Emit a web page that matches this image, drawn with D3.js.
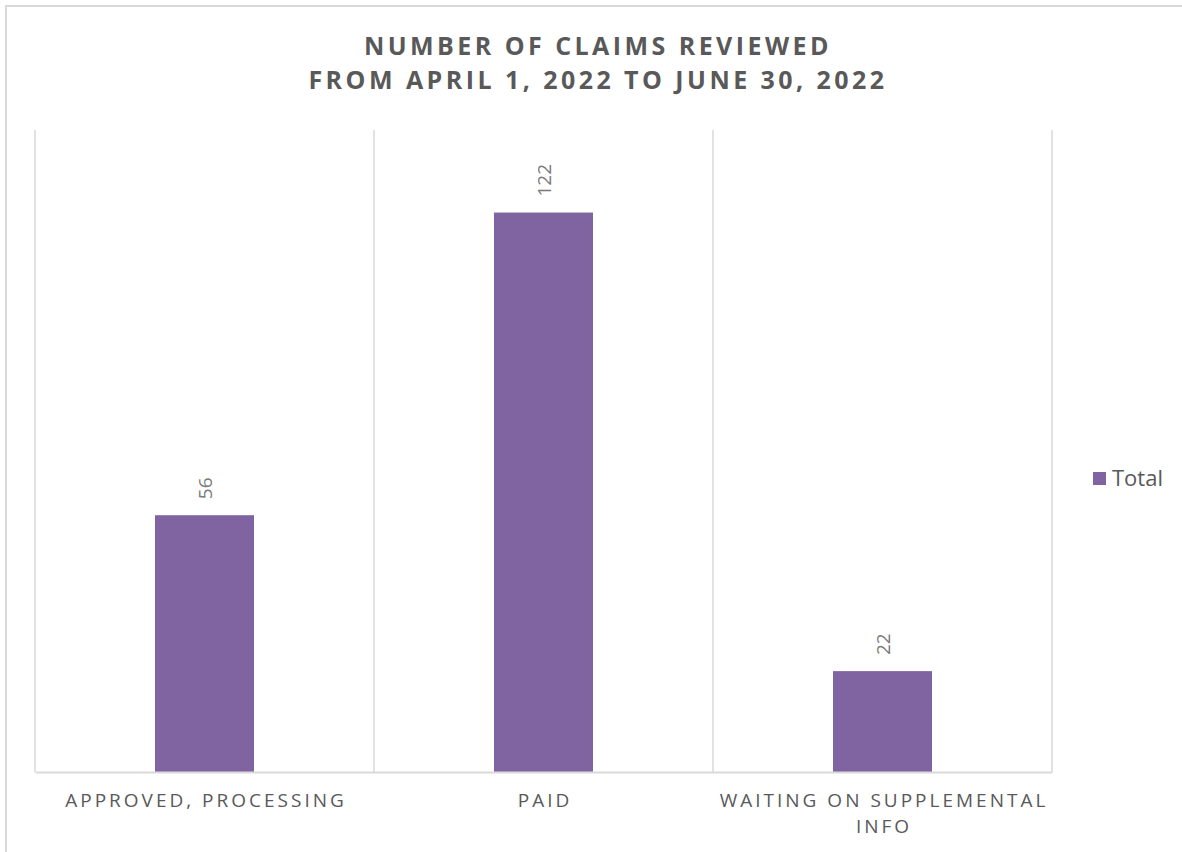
<!DOCTYPE html>
<html>
<head>
<meta charset="utf-8">
<script src="https://cdn.jsdelivr.net/npm/d3@7"></script>
<style>
  body { margin: 0; background: #fff; }
  svg { display: block; font-family: "Open Sans", sans-serif; }
</style>
</head>
<body>
<div id="container"></div>
<script>
const categories = [['APPROVED, PROCESSING'], ['PAID'], ['WAITING ON SUPPLEMENTAL', 'INFO']]
const totals = [56, 122, 22]
const seriesName = 'Total'

const width = 1182
const height = 852
const margin = { top: 130, right: 130, bottom: 80, left: 35 }

const svg = d3.select('#container')
  .append('svg')
  .attr('width', width)
  .attr('height', height)

// chart frame
svg.append('rect')
  .attr('x', 6).attr('y', 6)
  .attr('width', width).attr('height', height)
  .attr('fill', 'none')
  .attr('stroke', '#d9d9d9')
  .attr('stroke-width', 2)

const scaleX = d3.scaleBand()
  .domain(d3.range(categories.length))
  .range([margin.left, width - margin.right])

const scaleY = d3.scaleLinear()
  .domain([0, 140])
  .range([height - margin.bottom, margin.top])

// vertical gridlines between categories
const edges = d3.range(categories.length + 1).map(i => margin.left + i * scaleX.bandwidth())
svg.selectAll('.grid')
  .data(edges)
  .enter()
  .append('line')
  .attr('x1', d => d).attr('x2', d => d)
  .attr('y1', margin.top).attr('y2', height - margin.bottom)
  .attr('stroke', '#d9d9d9')
  .attr('stroke-width', 1.5)

const barW = scaleX.bandwidth() * 0.292

svg.selectAll('.bar')
  .data(totals)
  .enter()
  .append('rect')
  .attr('x', (d, i) => scaleX(i) + scaleX.bandwidth() / 2 - barW / 2)
  .attr('y', d => scaleY(d))
  .attr('width', barW)
  .attr('height', d => scaleY(0) - scaleY(d))
  .attr('fill', '#8064a2')

// value labels, rotated
svg.selectAll('.val')
  .data(totals)
  .enter()
  .append('text')
  .attr('transform', (d, i) => `translate(${scaleX(i) + scaleX.bandwidth() / 2 + 7.5}, ${scaleY(d) - 16}) rotate(-90)`)
  .attr('text-anchor', 'start')
  .attr('font-size', 19)
  .attr('fill', '#7a7a7a')
  .text(d => d)

// x axis
const axisX = d3.axisBottom(scaleX).tickSize(0).tickFormat('')
const gx = svg.append('g')
  .attr('transform', `translate(0, ${height - margin.bottom})`)
  .call(axisX)
gx.select('.domain').attr('stroke', '#d9d9d9').attr('stroke-width', 2)

gx.selectAll('.tick').each(function (d) {
  const t = d3.select(this).append('text')
    .attr('fill', '#595959')
    .attr('font-family', '"Open Sans", sans-serif')
    .attr('font-size', 19)
    .attr('letter-spacing', 3)
    .attr('text-anchor', 'middle')
  categories[d].forEach((line, j) => {
    t.append('tspan')
      .attr('x', 1.5)
      .attr('y', 35 + j * 26)
      .text(line)
  })
})

// title
const title = svg.append('text')
  .attr('text-anchor', 'middle')
  .attr('fill', '#595959')
  .attr('font-weight', 'bold')
  .attr('font-size', 25)
  .attr('letter-spacing', 3.45)
title.append('tspan').attr('x', 598).attr('y', 55).text('NUMBER OF CLAIMS REVIEWED')
title.append('tspan').attr('x', 598).attr('y', 89).text('FROM APRIL 1, 2022 TO JUNE 30, 2022')

// legend
const legend = svg.append('g').attr('transform', 'translate(1093, 472)')
legend.append('rect').attr('width', 13).attr('height', 13).attr('fill', '#8064a2')
legend.append('text')
  .attr('x', 19).attr('y', 14)
  .attr('font-size', 22)
  .attr('fill', '#595959')
  .text(seriesName)
</script>
</body>
</html>
